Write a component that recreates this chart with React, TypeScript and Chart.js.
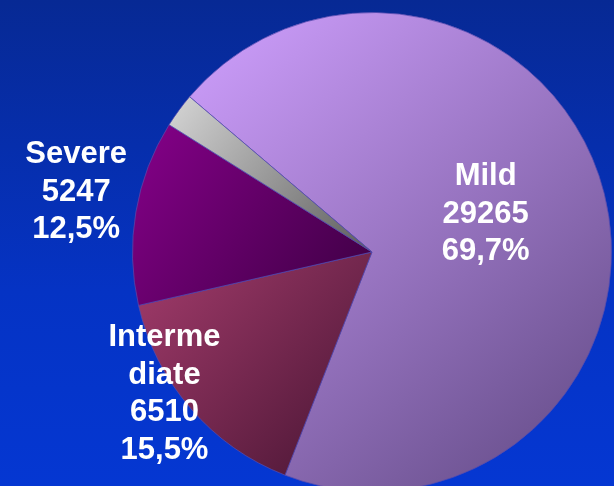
import { useEffect, useRef } from "react";
import { Chart, registerables } from "chart.js";

Chart.register(...registerables);

const categories = ["Mild", "Intermediate", "Severe", "Other"];
const values = [29265, 6510, 5247, 968];
const labelLines = [["Mild"], ["Interme", "diate"], ["Severe"], []];
const gradientStops = [
  ["#d0a0ff", "#5f4882"],
  ["#a43c6c", "#461432"],
  ["#86008a", "#3c0042"],
  ["#d6d6d6", "#5c5c5c"],
];
const ROTATION = -49.6;
// label placement: [angle offset from slice middle (deg), radius factor]
const labelPlacement = [
  [-4.25, 0.5],
  [6.4, 1.05],
  [1.8, 1.26],
  [0, 0],
];

const total = values.reduce((a, b) => a + b, 0);

function sliceGradient(ctx: any) {
  const idx = ctx.dataIndex;
  if (idx === undefined || idx === null) return gradientStops[0][0];
  const chart = ctx.chart;
  const area = chart.chartArea;
  if (!area) return gradientStops[idx][0];
  const cx = (area.left + area.right) / 2;
  const cy = (area.top + area.bottom) / 2;
  const r = Math.min(area.width, area.height) / 2;
  let start = ROTATION;
  for (let i = 0; i < idx; i++) start += (values[i] / total) * 360;
  const end = start + (values[idx] / total) * 360;
  const pts: number[][] = [[cx, cy]];
  for (let a = start; a < end; a += 1) {
    const rad = (a * Math.PI) / 180;
    pts.push([cx + r * Math.sin(rad), cy - r * Math.cos(rad)]);
  }
  const er = (end * Math.PI) / 180;
  pts.push([cx + r * Math.sin(er), cy - r * Math.cos(er)]);
  let minx = Infinity, miny = Infinity, maxx = -Infinity, maxy = -Infinity;
  for (const [x, y] of pts) {
    minx = Math.min(minx, x);
    miny = Math.min(miny, y);
    maxx = Math.max(maxx, x);
    maxy = Math.max(maxy, y);
  }
  const g = chart.ctx.createLinearGradient(minx, miny, maxx, maxy);
  g.addColorStop(0, gradientStops[idx][0]);
  g.addColorStop(1, gradientStops[idx][1]);
  return g;
}

function fmtPct(v: number) {
  return ((v / total) * 100).toFixed(1).replace(".", ",") + "%";
}

const labelPlugin = {
  id: "sliceLabels",
  afterDatasetsDraw(chart: any) {
    const meta = chart.getDatasetMeta(0);
    const c = chart.ctx;
    c.save();
    c.fillStyle = "#ffffff";
    c.font = 'bold 31px "Liberation Sans", Arial, sans-serif';
    c.textAlign = "center";
    c.textBaseline = "middle";
    const lineH = 37.5;
    meta.data.forEach((arc: any, i: number) => {
      if (!labelLines[i] || labelLines[i].length === 0) return;
      const { x, y, startAngle, endAngle, outerRadius } = arc.getProps(
        ["x", "y", "startAngle", "endAngle", "outerRadius"],
        true
      );
      const mid = (startAngle + endAngle) / 2 + (labelPlacement[i][0] * Math.PI) / 180;
      const rr = outerRadius * labelPlacement[i][1];
      const px = x + Math.cos(mid) * rr;
      const py = y + Math.sin(mid) * rr;
      const lines = [...labelLines[i], String(values[i]), fmtPct(values[i])];
      const top = py - ((lines.length - 1) * lineH) / 2;
      lines.forEach((t, k) => c.fillText(t, px, top + k * lineH));
    });
    c.restore();
  },
};

export default function App() {
  const ref = useRef<HTMLCanvasElement | null>(null);
  useEffect(() => {
    if (!ref.current) return;
    const chart = new Chart(ref.current, {
      type: "pie",
      data: {
        labels: categories,
        datasets: [
          {
            data: values,
            backgroundColor: sliceGradient as any,
            borderColor: "rgba(85,75,175,0.75)",
            borderWidth: 1,
            hoverOffset: 0,
          },
        ],
      },
      options: {
        responsive: false,
        animation: false,
        rotation: ROTATION,
        layout: { padding: { left: 132, right: 2, top: 12, bottom: 8 } },
        plugins: {
          legend: { display: false },
          tooltip: { enabled: false },
        },
      },
      plugins: [labelPlugin],
    });
    return () => chart.destroy();
  }, []);
  return (
    <div
      style={{
        position: "fixed",
        left: 0,
        top: 0,
        width: 614,
        height: 486,
        overflow: "hidden",
        background: "linear-gradient(to bottom, #072994 0%, #0533c4 60%, #0537d2 100%)",
      }}
    >
      <canvas ref={ref} width={614} height={500} style={{ display: "block", width: 614, height: 500 }} />
    </div>
  );
}
